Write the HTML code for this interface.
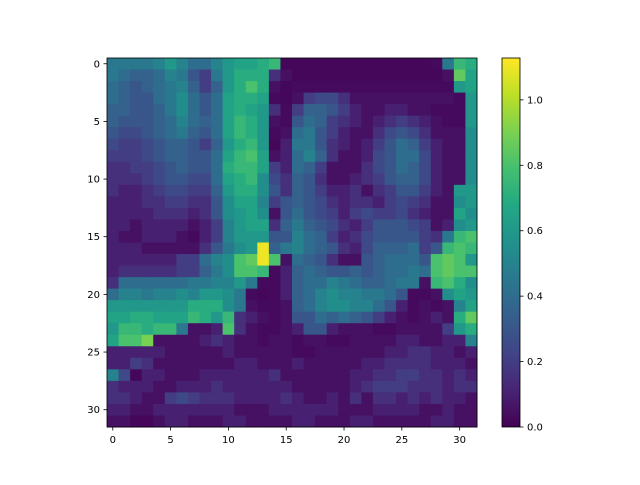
<!DOCTYPE html>
<html><head><meta charset="utf-8"><style>
html,body{margin:0;padding:0;background:#fff;}
svg text{font-family:"DejaVu Sans","Liberation Sans",sans-serif;font-size:10px;fill:#000;}
</style></head><body>
<svg id="chart" width="640" height="480" xmlns="http://www.w3.org/2000/svg">
<defs><linearGradient id="vir" x1="0" y1="1" x2="0" y2="0">
<stop offset="0" stop-color="#440154"/><stop offset="0.1" stop-color="#482475"/><stop offset="0.2" stop-color="#414487"/><stop offset="0.3" stop-color="#355f8d"/><stop offset="0.4" stop-color="#2a788e"/><stop offset="0.5" stop-color="#21918c"/><stop offset="0.6" stop-color="#22a884"/><stop offset="0.7" stop-color="#44bf70"/><stop offset="0.8" stop-color="#7ad151"/><stop offset="0.9" stop-color="#bddf26"/><stop offset="1" stop-color="#fde725"/>
</linearGradient></defs>
<g id="cells"></g>
<g id="axes"></g>
<g id="cbar"></g>
</svg>
<script>
const rowLabels = [0,5,10,15,20,25,30];
const colLabels = [0,5,10,15,20,25,30];
const cbarTicks = [0.0,0.2,0.4,0.6,0.8,1.0];
const vmin = 0, vmax = 1.128;
const grid = [
[0.45,0.45,0.45,0.45,0.5,0.6,0.5,0.4,0.4,0.5,0.6,0.65,0.65,0.7,0.75,0.02,0.02,0.02,0.02,0.02,0.02,0.02,0.02,0.02,0.02,0.02,0.02,0.02,0.03,0.45,0.75,0.7],
[0.45,0.4,0.35,0.35,0.4,0.5,0.45,0.3,0.2,0.45,0.6,0.7,0.7,0.7,0.15,0.05,0.02,0.02,0.02,0.02,0.02,0.02,0.02,0.02,0.02,0.02,0.02,0.02,0.02,0.05,0.85,0.65],
[0.4,0.35,0.3,0.35,0.4,0.45,0.5,0.35,0.2,0.35,0.6,0.7,0.8,0.7,0.05,0.02,0.03,0.03,0.03,0.03,0.03,0.03,0.03,0.03,0.03,0.03,0.03,0.03,0.03,0.03,0.6,0.65],
[0.4,0.35,0.3,0.3,0.4,0.45,0.55,0.4,0.3,0.4,0.65,0.7,0.7,0.65,0.03,0.02,0.05,0.2,0.25,0.25,0.15,0.05,0.05,0.05,0.05,0.05,0.05,0.05,0.05,0.05,0.03,0.6],
[0.35,0.35,0.3,0.3,0.35,0.45,0.55,0.4,0.3,0.4,0.65,0.7,0.65,0.6,0.15,0.03,0.2,0.35,0.35,0.3,0.2,0.1,0.05,0.05,0.1,0.1,0.05,0.05,0.03,0.03,0.03,0.6],
[0.35,0.3,0.3,0.3,0.35,0.4,0.5,0.4,0.35,0.4,0.65,0.75,0.7,0.6,0.05,0.03,0.3,0.4,0.35,0.2,0.15,0.1,0.05,0.1,0.15,0.2,0.15,0.1,0.05,0.03,0.03,0.6],
[0.3,0.25,0.25,0.3,0.35,0.4,0.45,0.35,0.3,0.4,0.65,0.75,0.7,0.6,0.03,0.05,0.4,0.45,0.3,0.2,0.1,0.05,0.05,0.15,0.25,0.3,0.25,0.15,0.05,0.05,0.05,0.55],
[0.25,0.2,0.2,0.25,0.3,0.35,0.35,0.3,0.2,0.35,0.6,0.7,0.75,0.6,0.02,0.1,0.45,0.45,0.3,0.15,0.1,0.05,0.1,0.2,0.3,0.4,0.35,0.2,0.1,0.05,0.05,0.55],
[0.2,0.2,0.2,0.25,0.3,0.35,0.35,0.3,0.3,0.4,0.65,0.75,0.8,0.65,0.05,0.1,0.4,0.5,0.35,0.15,0.05,0.05,0.1,0.25,0.3,0.4,0.4,0.25,0.1,0.05,0.05,0.55],
[0.15,0.15,0.2,0.2,0.25,0.3,0.35,0.3,0.3,0.4,0.7,0.75,0.75,0.65,0.2,0.1,0.4,0.35,0.2,0.05,0.05,0.05,0.15,0.25,0.3,0.4,0.35,0.25,0.1,0.05,0.05,0.55],
[0.15,0.15,0.15,0.2,0.25,0.3,0.3,0.25,0.25,0.4,0.65,0.7,0.75,0.55,0.25,0.15,0.35,0.3,0.15,0.05,0.05,0.1,0.15,0.2,0.3,0.35,0.35,0.25,0.1,0.05,0.05,0.55],
[0.15,0.1,0.1,0.15,0.2,0.25,0.25,0.2,0.2,0.35,0.6,0.7,0.7,0.55,0.3,0.15,0.35,0.3,0.2,0.1,0.1,0.15,0.05,0.15,0.2,0.3,0.3,0.2,0.1,0.05,0.6,0.6],
[0.1,0.1,0.1,0.15,0.15,0.2,0.2,0.15,0.15,0.3,0.55,0.65,0.65,0.5,0.2,0.3,0.35,0.3,0.25,0.15,0.1,0.15,0.15,0.1,0.2,0.25,0.2,0.15,0.05,0.05,0.55,0.6],
[0.1,0.1,0.1,0.1,0.15,0.15,0.15,0.1,0.15,0.3,0.55,0.6,0.65,0.55,0.05,0.3,0.4,0.3,0.25,0.2,0.1,0.2,0.25,0.2,0.2,0.25,0.15,0.1,0.05,0.05,0.65,0.55],
[0.1,0.1,0.05,0.1,0.1,0.1,0.1,0.05,0.1,0.2,0.5,0.6,0.65,0.65,0.15,0.35,0.45,0.35,0.3,0.25,0.15,0.1,0.2,0.3,0.3,0.3,0.25,0.2,0.05,0.1,0.55,0.6],
[0.1,0.05,0.05,0.1,0.1,0.1,0.05,0.03,0.1,0.2,0.5,0.6,0.6,0.6,0.3,0.3,0.5,0.4,0.35,0.2,0.1,0.15,0.25,0.3,0.3,0.3,0.3,0.2,0.15,0.45,0.75,0.8],
[0.1,0.1,0.1,0.05,0.05,0.05,0.05,0.05,0.15,0.3,0.45,0.55,0.6,1.1,0.35,0.45,0.5,0.4,0.35,0.3,0.15,0.1,0.25,0.35,0.35,0.35,0.4,0.2,0.3,0.75,0.8,0.75],
[0.1,0.1,0.1,0.1,0.1,0.1,0.2,0.2,0.4,0.5,0.55,0.8,0.85,1.1,0.8,0.05,0.4,0.35,0.3,0.15,0.05,0.05,0.3,0.35,0.4,0.4,0.4,0.3,0.8,0.85,0.8,0.6],
[0.1,0.15,0.15,0.15,0.15,0.15,0.2,0.2,0.35,0.45,0.55,0.8,0.8,0.75,0.03,0.1,0.35,0.4,0.35,0.3,0.3,0.35,0.3,0.35,0.4,0.4,0.45,0.4,0.8,0.85,0.8,0.8],
[0.15,0.4,0.4,0.4,0.4,0.4,0.4,0.45,0.45,0.5,0.5,0.6,0.45,0.03,0.03,0.1,0.35,0.4,0.4,0.5,0.45,0.4,0.35,0.35,0.4,0.45,0.45,0.05,0.75,0.8,0.7,0.55],
[0.4,0.5,0.5,0.45,0.5,0.5,0.55,0.5,0.6,0.6,0.55,0.45,0.03,0.02,0.03,0.1,0.35,0.4,0.5,0.55,0.5,0.5,0.45,0.45,0.4,0.3,0.03,0.03,0.05,0.55,0.65,0.6],
[0.6,0.6,0.6,0.6,0.6,0.6,0.6,0.7,0.7,0.7,0.55,0.45,0.05,0.03,0.03,0.05,0.35,0.4,0.5,0.55,0.55,0.5,0.5,0.4,0.3,0.1,0.03,0.05,0.03,0.05,0.5,0.65],
[0.65,0.65,0.7,0.7,0.65,0.65,0.65,0.75,0.7,0.6,0.75,0.15,0.1,0.05,0.03,0.05,0.3,0.3,0.4,0.35,0.4,0.35,0.3,0.2,0.1,0.05,0.03,0.05,0.1,0.05,0.7,0.85],
[0.6,0.75,0.75,0.7,0.75,0.75,0.45,0.05,0.05,0.1,0.8,0.15,0.05,0.03,0.03,0.05,0.1,0.3,0.3,0.1,0.05,0.05,0.05,0.03,0.03,0.05,0.05,0.05,0.05,0.2,0.6,0.7],
[0.65,0.8,0.8,0.9,0.05,0.05,0.05,0.05,0.1,0.15,0.1,0.05,0.05,0.03,0.05,0.05,0.03,0.05,0.05,0.03,0.03,0.05,0.05,0.05,0.05,0.1,0.1,0.05,0.05,0.1,0.1,0.5],
[0.1,0.1,0.1,0.1,0.1,0.05,0.05,0.05,0.05,0.05,0.1,0.05,0.05,0.05,0.05,0.05,0.03,0.03,0.05,0.05,0.05,0.05,0.05,0.05,0.1,0.1,0.15,0.15,0.1,0.1,0.05,0.1],
[0.1,0.1,0.2,0.15,0.05,0.05,0.05,0.05,0.05,0.05,0.05,0.1,0.1,0.05,0.05,0.05,0.1,0.05,0.05,0.05,0.05,0.05,0.1,0.1,0.15,0.15,0.15,0.15,0.1,0.1,0.1,0.05],
[0.5,0.25,0.02,0.1,0.1,0.05,0.05,0.05,0.1,0.1,0.1,0.1,0.1,0.1,0.15,0.05,0.05,0.05,0.05,0.05,0.05,0.1,0.1,0.15,0.15,0.2,0.2,0.15,0.15,0.1,0.15,0.1],
[0.15,0.1,0.1,0.1,0.05,0.05,0.1,0.1,0.1,0.15,0.1,0.1,0.1,0.1,0.1,0.1,0.05,0.05,0.05,0.05,0.05,0.1,0.15,0.2,0.2,0.2,0.15,0.15,0.15,0.1,0.15,0.15],
[0.15,0.15,0.1,0.05,0.05,0.2,0.25,0.2,0.15,0.15,0.15,0.1,0.1,0.1,0.1,0.15,0.1,0.05,0.05,0.1,0.05,0.15,0.05,0.15,0.15,0.1,0.15,0.1,0.15,0.1,0.1,0.05],
[0.1,0.1,0.05,0.05,0.1,0.1,0.1,0.1,0.1,0.1,0.1,0.05,0.05,0.05,0.1,0.1,0.1,0.1,0.1,0.1,0.05,0.05,0.05,0.1,0.1,0.1,0.1,0.05,0.05,0.1,0.05,0.05],
[0.05,0.05,0.02,0.02,0.05,0.1,0.1,0.05,0.05,0.05,0.1,0.1,0.05,0.05,0.05,0.05,0.1,0.1,0.05,0.05,0.05,0.1,0.1,0.05,0.05,0.05,0.05,0.05,0.1,0.1,0.05,0.05]
];
const NS="http://www.w3.org/2000/svg";
const vir=[[68,1,84],[72,36,117],[65,68,135],[53,95,141],[42,120,142],[33,145,140],[34,168,132],[68,191,112],[122,209,81],[189,223,38],[253,231,37]];
function cmap(v){let t=Math.max(0,Math.min(1,(v-vmin)/(vmax-vmin)))*10;let i=Math.min(9,Math.floor(t)),f=t-i;const a=vir[i],b=vir[i+1];return `rgb(${a.map((c,k)=>Math.round(c+(b[k]-c)*f)).join(',')})`;}
const X0=107,Y0=58,W=370,H=369;
const nR=grid.length,nC=grid[0].length;
const cw=W/nC,ch=H/nR;
const xs=c=>X0+c*cw, ys=r=>Y0+r*ch;
function mk(tag,attrs,parent){const e=document.createElementNS(NS,tag);for(const k in attrs)e.setAttribute(k,attrs[k]);parent.appendChild(e);return e;}
const cells=document.getElementById('cells');
grid.forEach((row,r)=>row.forEach((v,c)=>{
  const e=mk('rect',{x:xs(c),y:ys(r),width:cw+0.5,height:ch+0.5,fill:cmap(v)},cells);
  
  
}));
const ax=document.getElementById('axes');
const fr=mk('rect',{x:X0,y:Y0,width:W,height:H,fill:'none',stroke:'#000','stroke-width':0.8},ax);


colLabels.forEach(v=>{const x=xs(v+0.5);
  mk('line',{x1:x,y1:Y0+H,x2:x,y2:Y0+H+3.5,stroke:'#000','stroke-width':0.8},ax);
  const t=mk('text',{x:x,y:Y0+H+16,'text-anchor':'middle'},ax);t.textContent=v;
  
  });
rowLabels.forEach(v=>{const y=ys(v+0.5);
  mk('line',{x1:X0,y1:y,x2:X0-3.5,y2:y,stroke:'#000','stroke-width':0.8},ax);
  const t=mk('text',{x:X0-7,y:y+3.5,'text-anchor':'end'},ax);t.textContent=v;
  
  });
const cb=document.getElementById('cbar');
const CX=502,CW=18,CY=58,CH=369;
mk('rect',{x:CX,y:CY,width:CW,height:CH,fill:'url(#vir)',stroke:'#000','stroke-width':0.8},cb);
cbarTicks.forEach(v=>{const y=CY+CH-(v-vmin)/(vmax-vmin)*CH;
  mk('line',{x1:CX+CW,y1:y,x2:CX+CW+3.5,y2:y,stroke:'#000','stroke-width':0.8},cb);
  const t=mk('text',{x:CX+CW+7,y:y+3.5},cb);t.textContent=v.toFixed(1);
  
  });
</script>
</body></html>
